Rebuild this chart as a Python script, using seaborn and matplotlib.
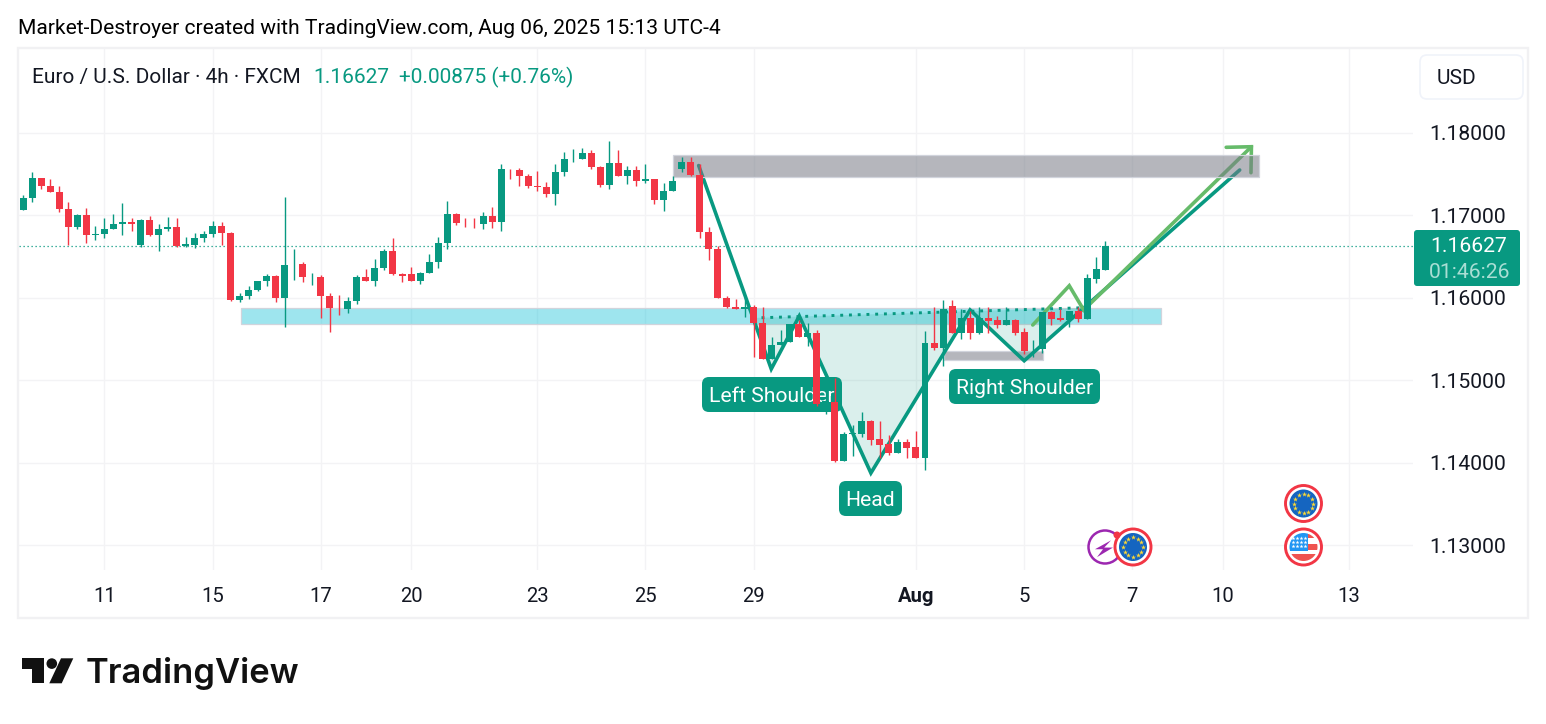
import numpy as np
import pandas as pd
import seaborn as sns
import matplotlib
matplotlib.use("Agg")
import matplotlib.pyplot as plt
from matplotlib.colors import to_rgba
from matplotlib.patches import Rectangle, FancyBboxPatch, Circle, Polygon
from matplotlib.transforms import Affine2D

opens = [1.17059,1.17205,1.17455,1.17358,1.17285,1.17079,1.16853,1.17007,1.16756,1.16768,1.16829,1.16889,1.16922,1.16643,1.16946,1.16756,1.16829,1.16861,1.16623,1.16643,
1.16720,1.16768,1.16873,1.16788,1.15968,1.16017,1.16090,1.16199,1.16267,1.15993,1.16405,1.16413,1.16247,1.16255,1.16025,1.15879,1.15859,1.15956,1.16255,1.16199,
1.16356,1.16570,1.16292,1.16292,1.16199,1.16296,1.16429,1.16659,1.17019,1.16910,1.16898,1.16889,1.16994,1.16914,1.17564,1.17552,1.17479,1.17358,1.17346,1.17253,
1.17520,1.17677,1.17677,1.17758,1.17588,1.17362,1.17637,1.17471,1.17552,1.17411,1.17443,1.17180,1.17289,1.17556,1.17649,1.17491,1.16801,1.16595,1.16001,1.15892,
1.15859,1.15892,1.15698,1.15253,1.15423,1.15459,1.15686,1.15520,1.15576,1.14704,1.14740,1.14025,1.14344,1.14352,1.14510,1.14292,1.14231,1.14122,1.14255,1.14195,
1.14061,1.15455,1.15395,1.15904,1.15576,1.15758,1.15576,1.15758,1.15734,1.15673,1.15734,1.15589,1.15374,1.15374,1.15831,1.15758,1.15734,1.15843,1.15746,1.16231,1.16340]
closes = [1.17213,1.17455,1.17350,1.17277,1.17071,1.16853,1.17007,1.16756,1.16776,1.16837,1.16898,1.16922,1.16889,1.16946,1.16756,1.16837,1.16861,1.16623,1.16655,1.16728,
1.16776,1.16873,1.16780,1.15968,1.16025,1.16098,1.16207,1.16267,1.15993,1.16401,1.16413,1.16247,1.16255,1.16017,1.15871,1.15871,1.15964,1.16255,1.16199,1.16364,
1.16570,1.16283,1.16259,1.16199,1.16304,1.16437,1.16667,1.17019,1.16902,1.16902,1.16889,1.16994,1.16914,1.17564,1.17556,1.17471,1.17350,1.17338,1.17253,1.17528,
1.17685,1.17685,1.17758,1.17580,1.17362,1.17637,1.17471,1.17552,1.17411,1.17443,1.17180,1.17297,1.17419,1.17649,1.17483,1.16792,1.16586,1.15993,1.15883,1.15859,
1.15892,1.15690,1.15253,1.15431,1.15467,1.15686,1.15520,1.15576,1.14716,1.14744,1.14025,1.14352,1.14364,1.14510,1.14280,1.14219,1.14122,1.14255,1.14183,1.14061,
1.15455,1.15395,1.15867,1.15576,1.15758,1.15576,1.15758,1.15722,1.15673,1.15734,1.15576,1.15358,1.15383,1.15831,1.15746,1.15734,1.15843,1.15746,1.16243,1.16352,1.16627]
highs = [1.17249,1.17520,1.17455,1.17443,1.17358,1.17164,1.17019,1.17091,1.16873,1.16970,1.17019,1.17152,1.16970,1.16958,1.16994,1.16898,1.16982,1.16970,1.16740,1.16788,
1.16813,1.16934,1.16922,1.16801,1.16061,1.16146,1.16207,1.16292,1.16279,1.17225,1.16595,1.16437,1.16304,1.16279,1.16061,1.16037,1.16013,1.16279,1.16352,1.16473,
1.16595,1.16728,1.16304,1.16376,1.16316,1.16534,1.16740,1.17176,1.17031,1.16970,1.16970,1.17043,1.17104,1.17625,1.17564,1.17576,1.17504,1.17540,1.17407,1.17625,
1.17770,1.17807,1.17819,1.17794,1.17600,1.17903,1.17794,1.17600,1.17600,1.17625,1.17443,1.17394,1.17479,1.17710,1.17710,1.17625,1.16861,1.16631,1.16025,1.15989,
1.16013,1.15916,1.15892,1.15528,1.15613,1.15686,1.15734,1.15698,1.15613,1.14886,1.15031,1.14377,1.14461,1.14619,1.14522,1.14510,1.14340,1.14292,1.14292,1.14389,
1.15601,1.15892,1.15976,1.15976,1.15867,1.15843,1.15892,1.15892,1.15782,1.15892,1.15746,1.15637,1.15492,1.15831,1.15843,1.15867,1.15843,1.15892,1.16292,1.16498,1.16691]
lows = [1.17059,1.17156,1.17314,1.17277,1.17035,1.16635,1.16829,1.16659,1.16696,1.16720,1.16829,1.16756,1.16805,1.16611,1.16744,1.16562,1.16805,1.16611,1.16611,1.16599,
1.16671,1.16732,1.16635,1.15956,1.15944,1.15980,1.16077,1.16138,1.15944,1.15641,1.16211,1.16186,1.16150,1.15750,1.15580,1.15787,1.15811,1.15920,1.16199,1.16138,
1.16332,1.16271,1.16186,1.16199,1.16162,1.16296,1.16356,1.16586,1.16877,1.16853,1.16841,1.16829,1.16841,1.16805,1.17435,1.17350,1.17326,1.17289,1.17217,1.17120,
1.17471,1.17641,1.17677,1.17564,1.17338,1.17314,1.17471,1.17374,1.17350,1.17386,1.17132,1.17047,1.17289,1.17520,1.17471,1.16720,1.16453,1.15993,1.15871,1.15859,
1.15762,1.15277,1.15253,1.15253,1.15423,1.15459,1.15520,1.15411,1.14692,1.14587,1.14013,1.14025,1.14086,1.14316,1.14219,1.14061,1.14098,1.14122,1.14061,1.14061,
1.13916,1.15370,1.15176,1.15576,1.15504,1.15504,1.15564,1.15576,1.15637,1.15673,1.15552,1.15322,1.15286,1.15334,1.15673,1.15722,1.15649,1.15710,1.15746,1.16182,1.16340]

price_ticks = [1.18, 1.17, 1.16, 1.15, 1.14, 1.13]
date_pos = [9, 21, 33, 43, 57, 69, 81, 99, 111, 123, 133, 147]
date_labels = ["11", "15", "17", "20", "23", "25", "29", "Aug", "5", "7", "10", "13"]
last_price = 1.16627

resist_x = [72.1, 137.0]; resist_y = [1.17457, 1.17730]
neck_zone_x = [24.1, 126.2]; neck_zone_y = [1.15678, 1.15871]
low_zone_x = [102.1, 113.1]; low_zone_y = [1.15241, 1.15358]

hs_x = [74.9, 82.95, 86.06, 94.0, 105.0, 111.0, 134.9]
hs_y = [1.17602, 1.15136, 1.15778, 1.13875, 1.15851, 1.15236, 1.17548]
neck_x = [80.9, 117.5]; neck_y = [1.15754, 1.15878]
fill_x = [80.9, 82.95, 86.06, 94.0, 105.0, 111.0, 117.5]
fill_y = [1.15754, 1.15136, 1.15778, 1.13875, 1.15851, 1.15236, 1.15878]
proj_x = [111.95, 116.0, 117.6, 136.2]
proj_y = [1.15669, 1.16145, 1.15851, 1.17830]
head_x = [133.4, 136.2, 136.15]
head_y = [1.17823, 1.17830, 1.17515]

TEAL = "#089981"; RED = "#F23645"; INK = "#131722"; LIGHT = "#66BB6A"; GRID = "#f3f3f5"
W, H = 1546, 724

sns.set_theme(style="white")
plt.rcParams["font.family"] = ["Roboto", "DejaVu Sans"]
fig = plt.figure(figsize=(W/100, H/100), dpi=100, facecolor="white")
L, R, T, B = 19, 1413, 48, 570
ax = fig.add_axes([L/W, 1-B/H, (R-L)/W, (B-T)/H])
px = Affine2D().scale(1, -1).translate(0, H)

# zones
def zone(xs, ys, col, alpha, z):
    ax.add_patch(Rectangle((xs[0], ys[0]), xs[1]-xs[0], ys[1]-ys[0], fc=to_rgba(col, alpha),
                           ec=to_rgba("#d1d4dc", 1), lw=0.9, zorder=z))
zone(neck_zone_x, neck_zone_y, "#00bcd4", 0.38, 1)
zone(low_zone_x, low_zone_y, "#787b86", 0.55, 1)
zone(resist_x, resist_y, "#787b86", 0.55, 3.5)

# pattern
ax.fill(fill_x, fill_y, color=TEAL, alpha=0.15, lw=0, zorder=2)
def path(xs, ys, col, lw, z, **kw):
    sns.lineplot(x=xs, y=ys, sort=False, estimator=None, color=col, lw=lw, ax=ax, zorder=z,
                 legend=False, solid_capstyle="round", solid_joinstyle="miter", **kw)
path(hs_x, hs_y, TEAL, 2.6, 3)
path(proj_x, proj_y, LIGHT, 2.6, 3)
path(head_x, head_y, LIGHT, 2.6, 3)
ax.plot(neck_x, neck_y, color=TEAL, lw=2.1, ls=(0, (1, 2)), zorder=3)

# pattern labels (drawn under the candles)
for bx, by, bw, bh, s in [(702, 377, 140, 35, "Left Shoulder"), (839, 481, 63, 35, "Head"),
                          (949, 369, 151, 35, "Right Shoulder")]:
    ax.add_patch(FancyBboxPatch((bx, by), bw, bh, boxstyle="round,pad=0,rounding_size=7", fc=TEAL, ec="none",
                                transform=px, zorder=4, clip_on=False))
    ax.text(bx+bw/2, by+bh/2+2, s, color="white", fontsize=15.2, ha="center", va="center",
            transform=px, zorder=4.1)

# candles
df = pd.DataFrame({"o": opens, "h": highs, "l": lows, "c": closes})
df["i"] = np.arange(len(df))
df["col"] = np.where(df.c >= df.o, TEAL, RED)
ax.vlines(df.i, df.l, df.h, colors=df.col, lw=1.0, zorder=5)
ax.bar(df.i, (df.c-df.o).abs(), bottom=df[["o", "c"]].min(axis=1), width=0.776, color=df.col, lw=0, zorder=6)

ax.axhline(last_price, color=TEAL, lw=0.9, ls=(0, (1, 2.2)), zorder=4.5)

ax.set_xlim(-0.477, 154.12)
ax.set_ylim(1.126994, 1.190267)
ax.set_xticks(date_pos)
ax.set_xticklabels(date_labels)
ax.set_yticks(price_ticks)
ax.set_yticklabels([f"{p:.5f}" for p in price_ticks])
ax.yaxis.tick_right()
ax.tick_params(axis="y", length=0, pad=12, labelsize=15.2, labelcolor=INK)
ax.tick_params(axis="x", length=0, pad=12, labelsize=14.6, labelcolor=INK)
for lab in ax.get_xticklabels():
    if lab.get_text() == "Aug":
        lab.set_fontweight("bold")
ax.grid(True, color=GRID, lw=1.0, zorder=0)
ax.set_axisbelow(True)
sns.despine(ax=ax, left=True, bottom=True, right=True, top=True)

# chrome
deco = fig.add_axes([0, 0, 1, 1], zorder=10)
deco.set_xlim(0, W); deco.set_ylim(H, 0); deco.axis("off"); deco.patch.set_alpha(0)
deco.add_patch(Rectangle((18, 48), 1510, 570, fc="none", ec="#f1f1f3", lw=1.7))
deco.text(18, 29, "Market-Destroyer created with TradingView.com, Aug 06, 2025 15:13 UTC-4",
          color="#000000", fontsize=15.1, va="center", ha="left")
deco.text(32, 77.5, "Euro / U.S. Dollar · 4h · FXCM", color=INK, fontsize=15.05, va="center")
deco.text(313, 77.5, "1.16627", color=TEAL, fontsize=15.05, va="center")
deco.text(399, 77.5, "+0.00875 (+0.76%)", color=TEAL, fontsize=15.05, va="center")
deco.add_patch(FancyBboxPatch((1420, 55), 103, 44, boxstyle="round,pad=0,rounding_size=7", fc="white",
                              ec="#f0f3fa", lw=1.2))
deco.text(1437, 78, "USD", color=INK, fontsize=15, va="center")
deco.add_patch(FancyBboxPatch((1414, 230), 106, 56, boxstyle="round,pad=0,rounding_size=3", fc=TEAL, ec="none"))
deco.text(1430, 247, "1.16627", color="white", fontsize=15.2, va="center")
deco.text(1429, 272, "01:46:26", color="#a9ded4", fontsize=15.2, va="center")

# event icons
def ring(cx, cy):
    deco.add_patch(Circle((cx, cy), 18, fc="white", ec=RED, lw=2.1, zorder=3))
def eu(cx, cy):
    ring(cx, cy)
    deco.add_patch(Circle((cx, cy), 14, fc="#1565c0", ec="none", zorder=4))
    a = np.deg2rad(np.arange(0, 360, 30))
    deco.scatter(cx+9.6*np.cos(a), cy+9.6*np.sin(a), marker="*", s=14, color="#fdd835", lw=0, zorder=5)
def us(cx, cy):
    ring(cx, cy)
    disc = Circle((cx, cy), 14, fc="white", ec="none", zorder=4)
    deco.add_patch(disc)
    for rx, ry, rw, rh, c in [(cx+4, cy-13, 11, 4, "#ef5350"), (cx+4, cy-3, 11, 6, "#ef5350"),
                              (cx-15, cy+7, 30, 7, "#ef5350"), (cx-15, cy-14, 19, 17.5, "#2196f3")]:
        r_ = Rectangle((rx, ry), rw, rh, fc=c, ec="none", zorder=5)
        deco.add_patch(r_); r_.set_clip_path(disc)
    sx, sy = np.meshgrid(np.arange(-11, 3, 4.2), np.arange(-9, 3, 4.2))
    deco.scatter(cx+sx.ravel(), cy+sy.ravel(), marker="*", s=9, color="white", lw=0, zorder=6)

deco.add_patch(Circle((1105, 547), 16.5, fc="white", ec="#9c27b0", lw=1.8, zorder=2))
bolt = np.array([[6.7, -4.7], [-6.7, 2.7], [0, 2.7], [-5, 9.3], [8.3, 1.3], [1, 1.3]])*1.2
deco.add_patch(Polygon(bolt+[1103, 546], fc="#9c27b0", ec="none", zorder=2.5))
eu(1133, 547)
deco.add_patch(Circle((1117, 535), 3.5, fc=RED, ec="none", zorder=4))
eu(1303.5, 503.5)
us(1303.5, 547)

# logo
LOGO = "#111111"
deco.add_patch(Polygon([(21.7, 658.3), (44.3, 658.3), (44.3, 683.3), (32.3, 683.3), (32.3, 669.3), (21.7, 669.3)],
                       fc=LOGO, ec="none"))
deco.add_patch(Circle((51.8, 663.6), 5.3, fc=LOGO, ec="none"))
deco.add_patch(Polygon([(61, 658.3), (73.3, 658.3), (61.7, 683.3), (49.3, 683.3)], fc=LOGO, ec="none"))
deco.text(86, 683.3, "TradingView", color=LOGO, fontsize=24.9, family="Inter", fontweight="semibold", va="baseline")

fig.savefig("out.png", dpi=100, facecolor="white")
